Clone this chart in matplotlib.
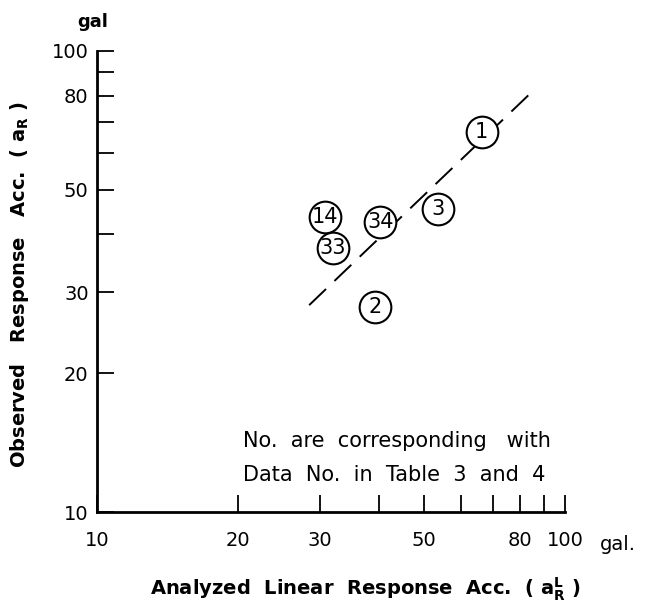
import matplotlib
matplotlib.use('Agg')
import matplotlib.pyplot as plt
from matplotlib.ticker import FixedLocator, FixedFormatter, NullLocator

plt.rcParams['font.family'] = 'DejaVu Sans'
plt.rcParams['mathtext.default'] = 'regular'

# observed vs analyzed response acceleration (gal)
data_no = ['1', '2', '3', '14', '33', '34']
analyzed = [66.4, 39.3, 53.6, 30.7, 31.9, 40.3]
observed = [66.8, 27.9, 45.4, 43.7, 37.3, 42.6]

# dashed trend line end points
fit_x = [28.4, 84.3]
fit_y = [28.1, 80.9]

tick_vals = [10, 20, 30, 40, 50, 60, 70, 80, 90, 100]
tick_text = ['10', '20', '30', '', '50', '', '', '80', '', '100']

W, H = 648, 613
fig = plt.figure(figsize=(W / 100, H / 100), dpi=100)
ax = fig.add_axes([97 / W, 101 / H, 468 / W, 461 / H])

ax.set_xscale('log')
ax.set_yscale('log')
ax.set_xlim(10, 100)
ax.set_ylim(10, 100)

ax.plot(fit_x, fit_y, color='black', lw=1.4, dashes=(12, 6), zorder=2)

ax.scatter(analyzed, observed, s=520, facecolor='white', edgecolor='black',
           linewidth=1.5, zorder=3, clip_on=False)
for n, x, y in zip(data_no, analyzed, observed):
    ax.text(x, y, n, ha='center', va='center', fontsize=15, zorder=4)

for side in ['top', 'right']:
    ax.spines[side].set_visible(False)
for side in ['left', 'bottom']:
    ax.spines[side].set_linewidth(2)

for axis in [ax.xaxis, ax.yaxis]:
    axis.set_major_locator(FixedLocator(tick_vals))
    axis.set_major_formatter(FixedFormatter(tick_text))
    axis.set_minor_locator(NullLocator())

ax.tick_params(axis='both', which='major', direction='in', length=12,
               width=1.3, labelsize=14)
ax.tick_params(axis='x', pad=14)
ax.tick_params(axis='y', pad=6)

fig.text(243 / W, 1 - 441 / H, 'No.  are  corresponding   with',
         fontsize=15, ha='left', va='center')
fig.text(243 / W, 1 - 475 / H, 'Data  No.  in  Table  3  and  4',
         fontsize=15, ha='left', va='center')

fig.text(93 / W, 1 - 22 / H, 'gal', fontsize=13, fontweight='bold',
         ha='center', va='center')
fig.text(618 / W, 1 - 544 / H, 'gal.', fontsize=14, ha='center', va='center')

fig.text(366 / W, 1 - 589 / H,
         r'Analyzed  Linear  Response  Acc.  ( a$_R^L$ )',
         fontsize=14, fontweight='bold', ha='center', va='center')
fig.text(20 / W, 1 - 285 / H,
         r'Observed   Response   Acc.  ( a$_R$ )',
         fontsize=14, fontweight='bold', rotation=90, ha='center', va='center')

fig.savefig('out.png', dpi=100, facecolor='white')
